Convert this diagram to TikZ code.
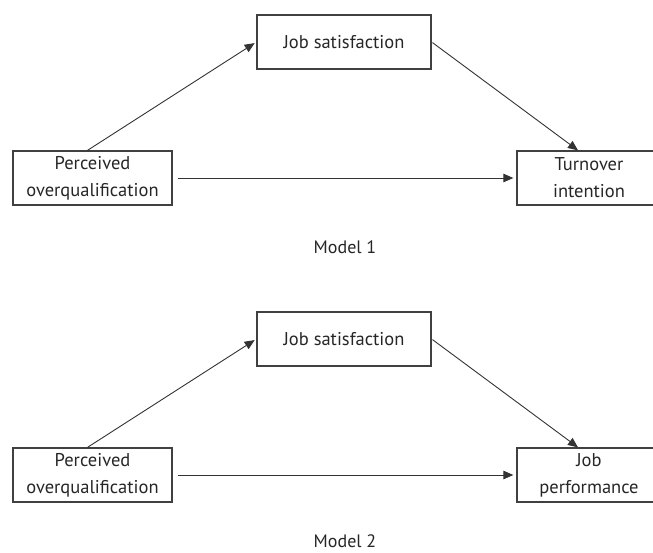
\documentclass[tikz,border=0pt]{standalone}
\usepackage{fontspec}
\setmainfont{PT Sans}
\usetikzlibrary{arrows.meta,positioning}

\begin{document}
\begin{tikzpicture}[
  x=1pt,y=-1pt,
  box/.style={rectangle,draw=black!75,line width=1.3pt,text=black!85,
              minimum height=54pt,inner sep=1pt,align=center,
              font=\fontsize{18.5}{27}\selectfont},
  arr/.style={-{Triangle[length=10pt,width=8.5pt]},line width=0.9pt,draw=black!80},
  lbl/.style={text=black!85,anchor=base,inner sep=0pt,font=\fontsize{18}{20}\selectfont},
]
  \useasboundingbox (0,0) rectangle (653,552);

  % Model 1
  \node[box,minimum width=174pt] (js1) at (344,42)   {Job satisfaction};
  \node[box,minimum width=159pt] (pq1) at (92.5,178) {Perceived\\overqualification};
  \node[box,minimum width=144pt] (ti1) at (589,178)  {Turnover\\intention};

  \draw[arr,shorten >=2pt] ([xshift=-5pt]pq1.north) -- (js1.west);
  \draw[arr,shorten <=1pt] (js1.east) -- ([xshift=-11pt]ti1.north);
  \draw[arr,shorten <=5pt,shorten >=3pt] (pq1.east) -- (ti1.west);

  \node[lbl] (m1) at (345,253) {Model 1};

  % Model 2
  \node[box,minimum width=174pt] (js2) at (344,339)   {Job satisfaction};
  \node[box,minimum width=159pt] (pq2) at (92.5,475) {Perceived\\overqualification};
  \node[box,minimum width=144pt] (jp2) at (589,475)  {Job\\performance};

  \draw[arr,shorten >=2pt] ([xshift=-5pt]pq2.north) -- (js2.west);
  \draw[arr,shorten <=1pt] (js2.east) -- ([xshift=-11pt]jp2.north);
  \draw[arr,shorten <=5pt,shorten >=3pt] (pq2.east) -- (jp2.west);

  \node[lbl] (m2) at (345,547) {Model 2};
\end{tikzpicture}
\end{document}
